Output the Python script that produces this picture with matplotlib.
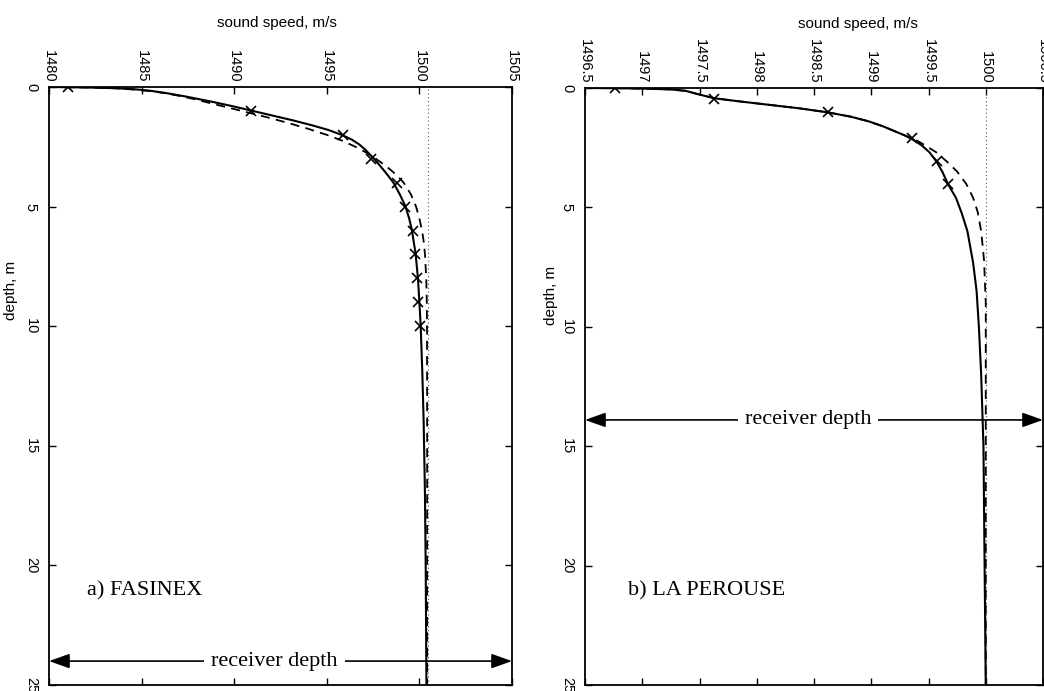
import matplotlib
matplotlib.use("Agg")
import matplotlib.pyplot as plt
import matplotlib.transforms as mtransforms

# ---------------- data: a) FASINEX ----------------
fas_solid_depth = [0.0, 0.02, 0.05, 0.1, 0.15, 0.25, 0.4, 0.6, 0.8, 1.0, 1.2, 1.4, 1.6, 1.8,
                   2.0, 2.2, 2.4, 2.6, 2.8, 3.0, 3.5, 4.0, 4.5, 5.0, 5.5, 6.0, 7.0, 8.0, 9.0,
                   10.0, 12.0, 14.0, 17.0, 20.0, 25.0]
fas_solid_speed = [1480.0, 1482.0, 1483.6, 1484.7, 1485.4, 1486.3, 1487.4, 1488.7, 1489.9,
                   1491.0, 1492.1, 1493.2, 1494.2, 1495.1, 1495.8, 1496.35, 1496.75, 1497.05,
                   1497.3, 1497.55, 1498.1, 1498.6, 1498.95, 1499.25, 1499.45, 1499.6, 1499.8,
                   1499.92, 1500.0, 1500.07, 1500.16, 1500.23, 1500.3, 1500.34, 1500.38]
fas_dash_depth = [0.0, 0.02, 0.05, 0.1, 0.2, 0.35, 0.5, 0.75, 1.0, 1.25, 1.5, 1.75, 2.0, 2.25,
                  2.5, 2.75, 3.0, 3.25, 3.5, 3.75, 4.0, 4.5, 5.0, 5.5, 6.0, 6.5, 7.0, 8.0,
                  9.0, 10.0, 15.0, 25.0]
fas_dash_speed = [1480.0, 1482.0, 1483.5, 1484.5, 1485.8, 1486.9, 1487.8, 1489.1, 1490.4,
                  1491.7, 1492.9, 1494.0, 1495.0, 1495.85, 1496.55, 1497.15, 1497.65, 1498.1,
                  1498.5, 1498.85, 1499.15, 1499.55, 1499.82, 1500.0, 1500.14, 1500.24,
                  1500.3, 1500.37, 1500.4, 1500.41, 1500.42, 1500.42]
fas_meas_depth = [0, 1, 2, 3, 4, 5, 6, 7, 8, 9, 10]
fas_meas_speed = [1481.0, 1490.9, 1495.9, 1497.4, 1498.8, 1499.2, 1499.65, 1499.75, 1499.85,
                  1499.9, 1500.05]
fas_ref_speed = 1500.45
fas_receiver_depth = 24.0

# ---------------- data: b) LA PEROUSE ----------------
lap_solid_depth = [0.0, 0.01, 0.03, 0.06, 0.12, 0.25, 0.43, 0.55, 0.7, 0.85, 1.02, 1.2, 1.4,
                   1.6, 1.8, 2.0, 2.15, 2.4, 2.7, 3.08, 3.5, 4.02, 4.6, 5.24, 6.0, 7.33, 8.5,
                   10.0, 12.0, 15.0, 20.0, 25.0]
lap_solid_speed = [1496.5, 1496.8, 1497.05, 1497.25, 1497.38, 1497.48, 1497.63, 1497.83,
                   1498.1, 1498.37, 1498.62, 1498.82, 1498.98, 1499.1, 1499.2, 1499.3,
                   1499.36, 1499.44, 1499.51, 1499.57, 1499.62, 1499.67, 1499.74, 1499.79,
                   1499.84, 1499.89, 1499.92, 1499.94, 1499.96, 1499.98, 1499.99, 1500.0]
lap_dash_depth = [0.0, 0.01, 0.03, 0.06, 0.12, 0.25, 0.43, 0.55, 0.7, 0.85, 1.02, 1.2, 1.4,
                  1.6, 1.8, 2.0, 2.15, 2.4, 2.7, 3.08, 3.5, 4.02, 4.6, 5.2, 6.0, 7.2, 9.0, 25.0]
lap_dash_speed = [1496.5, 1496.8, 1497.05, 1497.25, 1497.38, 1497.48, 1497.63, 1497.83,
                  1498.1, 1498.37, 1498.62, 1498.82, 1498.98, 1499.1, 1499.2, 1499.3,
                  1499.38, 1499.47, 1499.57, 1499.66, 1499.75, 1499.83, 1499.89, 1499.93,
                  1499.96, 1499.985, 1500.0, 1500.0]
lap_meas_depth = [0.0, 0.45, 1.0, 2.1, 3.05, 4.0]
lap_meas_speed = [1496.76, 1497.63, 1498.62, 1499.36, 1499.57, 1499.67]
lap_ref_speed = 1500.0
lap_receiver_depth = 13.9

# ---------------- axes / labels ----------------
fas_xticks = [1480, 1485, 1490, 1495, 1500, 1505]
fas_xticklabels = ["1480", "1485", "1490", "1495", "1500", "1505"]
lap_xticks = [1496.5, 1497, 1497.5, 1498, 1498.5, 1499, 1499.5, 1500, 1500.5]
lap_xticklabels = ["1496.5", "1497", "1497.5", "1498", "1498.5", "1499", "1499.5", "1500", "1500.5"]
depth_ticks = [0, 5, 10, 15, 20, 25]
depth_ticklabels = ["0", "5", "10", "15", "20", "25"]

plt.rcParams["font.family"] = ["Liberation Sans", "DejaVu Sans"]

W, H = 1044, 691
fig = plt.figure(figsize=(W / 100, H / 100), dpi=100)
axL = fig.add_axes([49 / W, 1 - 685 / H, (512 - 49) / W, (685 - 87) / H])
axR = fig.add_axes([585 / W, 1 - 685 / H, (1043 - 585) / W, (685 - 88) / H])


def draw(ax, sd, ss, dd, ds, md, ms, ref, rdepth, xlim, xt, xtl, name, name_x,
         xlab_pos, ylab_pos, txt_x):
    ax.plot(ss, sd, color="black", lw=1.5, zorder=3)
    ax.plot(ds, dd, color="black", lw=1.3, ls=(0, (5, 3.5)), zorder=3)
    ax.plot(ms, md, ls="none", marker="x", ms=7, mew=1.2, color="black", zorder=4)
    ax.axvline(ref, color="0.35", lw=0.8, ls=(0, (1, 2.5)), zorder=2)

    ax.set_xlim(*xlim)
    ax.set_ylim(25, 0)
    ax.xaxis.tick_top()
    ax.xaxis.set_label_position("top")
    ax.set_xticks(xt)
    ax.set_xticklabels(xtl, rotation=-90)
    ax.set_yticks(depth_ticks)
    ax.set_yticklabels(depth_ticklabels, rotation=-90, va="center")
    ax.tick_params(axis="both", direction="in", length=5, width=1.0,
                   top=True, bottom=True, left=True, right=True,
                   labelsize=10.5, colors="black")
    ax.tick_params(axis="x", pad=3, labeltop=True, labelbottom=False)
    ax.tick_params(axis="y", pad=8)
    for sp in ax.spines.values():
        sp.set_linewidth(1.3)

    ax.set_xlabel("sound speed, m/s", fontsize=11)
    ax.xaxis.set_label_coords(*xlab_pos)
    ax.set_ylabel("depth, m", fontsize=11)
    ax.yaxis.set_label_coords(*ylab_pos)

    trans = mtransforms.blended_transform_factory(ax.transAxes, ax.transData)
    ax.annotate("", xy=(0.0, rdepth), xytext=(1.0, rdepth), xycoords=trans,
                textcoords=trans,
                arrowprops=dict(arrowstyle="<|-|>,head_length=0.9,head_width=0.32",
                                color="black", lw=1.2, mutation_scale=14,
                                shrinkA=0, shrinkB=0), zorder=5)
    ax.text(txt_x, rdepth, "receiver depth", transform=trans, ha="center", va="center",
            fontsize=16, family="Liberation Serif", zorder=6,
            bbox=dict(fc="white", ec="none", pad=5))
    ax.text(name_x, 21.05, name, ha="left", va="center", fontsize=16,
            family="Liberation Serif", zorder=6)


draw(axL, fas_solid_depth, fas_solid_speed, fas_dash_depth, fas_dash_speed,
     fas_meas_depth, fas_meas_speed, fas_ref_speed, fas_receiver_depth,
     (1480, 1505), fas_xticks, fas_xticklabels, "a) FASINEX", 1482.05,
     (0.492, 1.10), (-0.067, 0.66), 0.487)
draw(axR, lap_solid_depth, lap_solid_speed, lap_dash_depth, lap_dash_speed,
     lap_meas_depth, lap_meas_speed, lap_ref_speed, lap_receiver_depth,
     (1496.5, 1500.5), lap_xticks, lap_xticklabels, "b) LA PEROUSE", 1496.875,
     (0.596, 1.10), (-0.059, 0.653), 0.487)

fig.savefig("out.png", dpi=100)
